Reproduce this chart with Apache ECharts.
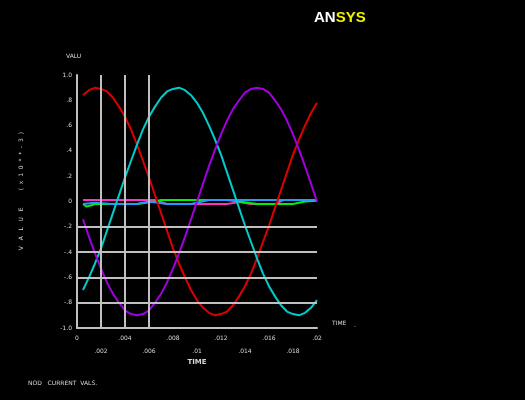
<!DOCTYPE html>
<html><head><meta charset="utf-8">
<script src="https://cdn.jsdelivr.net/npm/echarts@6/dist/echarts.min.js"></script>
<style>html,body{margin:0;padding:0;background:#000;}#c{width:525px;height:400px;}</style>
</head><body><div id="c"></div>
<script>
var times = [0.0005,0.001,0.0015,0.002,0.0025,0.003,0.0035,0.004,0.0045,0.005,0.0055,0.006,0.0065,0.007,0.0075,0.008,0.0085,0.009,0.0095,0.01,0.0105,0.011,0.0115,0.012,0.0125,0.013,0.0135,0.014,0.0145,0.015,0.0155,0.016,0.0165,0.017,0.0175,0.018,0.0185,0.019,0.0195,0.02];
var redVals = [0.84,0.88,0.90,0.89,0.87,0.82,0.75,0.67,0.57,0.45,0.32,0.19,0.05,-0.09,-0.23,-0.37,-0.49,-0.60,-0.70,-0.78,-0.84,-0.88,-0.90,-0.89,-0.87,-0.82,-0.75,-0.67,-0.57,-0.45,-0.32,-0.19,-0.05,0.09,0.23,0.37,0.49,0.60,0.70,0.78];
var cyanVals = [-0.70,-0.60,-0.49,-0.37,-0.23,-0.09,0.05,0.19,0.32,0.45,0.57,0.67,0.75,0.82,0.87,0.89,0.90,0.88,0.84,0.78,0.70,0.60,0.49,0.37,0.23,0.09,-0.05,-0.19,-0.32,-0.45,-0.57,-0.67,-0.75,-0.82,-0.87,-0.89,-0.90,-0.88,-0.84,-0.78];
var purpleVals = [-0.14,-0.28,-0.41,-0.53,-0.64,-0.73,-0.80,-0.86,-0.89,-0.90,-0.89,-0.86,-0.80,-0.73,-0.64,-0.53,-0.41,-0.28,-0.14,0.00,0.14,0.28,0.41,0.53,0.64,0.73,0.80,0.86,0.89,0.90,0.89,0.86,0.80,0.73,0.64,0.53,0.41,0.28,0.14,0.00];
var magentaPts = [[0.0005,0.012],[0.0065,0.012],[0.0075,-0.02],[0.0125,-0.02],[0.0135,-0.005],[0.0145,-0.02],[0.0165,-0.02],[0.0172,0.012],[0.0198,0.012],[0.02,0.005]];
var greenPts = [[0.0005,-0.02],[0.0008,-0.04],[0.0012,-0.03],[0.0015,-0.02],[0.005,-0.02],[0.0065,0.0],[0.007,0.012],[0.0125,0.012],[0.0135,0.0],[0.015,-0.02],[0.018,-0.02],[0.019,0.0],[0.02,0.005]];
var bluePts = [[0.0005,-0.02],[0.0015,-0.01],[0.003,-0.02],[0.005,-0.02],[0.006,0.0],[0.0075,-0.02],[0.0095,-0.02],[0.011,0.012],[0.0145,0.012],[0.0198,0.012],[0.02,0.005]];
var xTickLabels = ["0",".002",".004",".006",".008",".01",".012",".014",".016",".018",".02"];
var yTickLabels = ["-1.0","-.8","-.6","-.4","-.2","0",".2",".4",".6",".8","1.0"];
var hGridVals = [-0.2,-0.4,-0.6,-0.8];
var vGridVals = [0.002,0.004,0.006];

function pair(vals){ return times.map(function(t,i){ return [t, vals[i]]; }); }
var txt = '#d8d8d8';
var font = 'DejaVu Sans';
var chart = echarts.init(document.getElementById('c'), null, {renderer:'canvas'});
var gridLine = {color:'#c0c0c0', width:2, type:'solid'};
var markData = hGridVals.map(function(v){ return [{coord:[0, v]}, {coord:[0.02, v]}]; })
  .concat(vGridVals.map(function(v){ return [{coord:[v, -1]}, {coord:[v, 1]}]; }));
function line(name, data, color){
  return {name:name, type:'line', data:data, showSymbol:false, animation:false,
    lineStyle:{color:color, width:2}, itemStyle:{color:color}, z:3};
}
var gridSeries = line('grid', [[0,0]], 'rgba(0,0,0,0)');
gridSeries.lineStyle = {width:0, opacity:0};
gridSeries.z = 1;
gridSeries.markLine = {silent:true, symbol:['none','none'], animation:false,
  label:{show:false}, emphasis:{disabled:true}, lineStyle:gridLine, data:markData};
chart.setOption({
  backgroundColor:'#000',
  animation:false,
  grid:{left:77, right:208, top:75, bottom:72},
  xAxis:{type:'value', min:0, max:0.02, interval:0.002,
    name:'TIME', nameLocation:'middle', nameGap:30,
    nameTextStyle:{color:txt, fontSize:7, fontFamily:font, fontWeight:'bold'},
    axisLine:{show:true, onZero:false, lineStyle:{color:'#c0c0c0', width:2}},
    axisTick:{show:false}, splitLine:{show:false},
    axisLabel:{color:txt, fontSize:6, fontFamily:font, margin:7,
      formatter:function(v, i){ var k = Math.round(v/0.002); var s = xTickLabels[k]; return k%2 ? '{b|'+s+'}' : '{a|'+s+'}'; },
      rich:{a:{color:txt, fontSize:6, fontFamily:font}, b:{color:txt, fontSize:6, fontFamily:font, padding:[13,0,0,0]}}}
  },
  yAxis:{type:'value', min:-1, max:1, interval:0.2,
    axisLine:{show:true, onZero:false, lineStyle:{color:'#c0c0c0', width:2}},
    axisTick:{show:false}, splitLine:{show:false},
    axisLabel:{color:txt, fontSize:6, fontFamily:font, margin:5,
      formatter:function(v){ return yTickLabels[Math.round((v+1)/0.2)]; }}
  },
  series:[
    gridSeries,
    line('magenta', magentaPts, '#ff30c0'),
    line('green', greenPts, '#00f000'),
    line('blue', bluePts, '#1e9bff'),
    line('red', pair(redVals), '#dd0000'),
    line('cyan', pair(cyanVals), '#00cccc'),
    line('purple', pair(purpleVals), '#a000e0')
  ],
  graphic:[
    {type:'text', left:314, top:10, style:{text:'{w|AN}{y|SYS}', rich:{
      w:{fill:'#ffffff', fontSize:15, fontFamily:'Liberation Sans Narrow, Liberation Sans', fontWeight:'bold'},
      y:{fill:'#f0f000', fontSize:15, fontFamily:'Liberation Sans Narrow, Liberation Sans', fontWeight:'bold'}}}},
    {type:'text', left:66, top:53, style:{text:'VALU', fill:txt, fontSize:6, fontFamily:font}},
    {type:'text', left:332, top:320, style:{text:'TIME', fill:txt, fontSize:6, fontFamily:font}},
    {type:'text', left:354, top:322, style:{text:'.', fill:txt, fontSize:6, fontFamily:font}},
    {type:'text', left:18, top:132, rotation:Math.PI/2, style:{text:'V   A   L   U   E         (  x  1  0  *  *  -  3  )', fill:txt, fontSize:6, fontFamily:font}},
    {type:'text', left:28, top:380, style:{text:'NOD   CURRENT  VALS.', fill:txt, fontSize:6, fontFamily:font}}
  ]
});
</script></body></html>
